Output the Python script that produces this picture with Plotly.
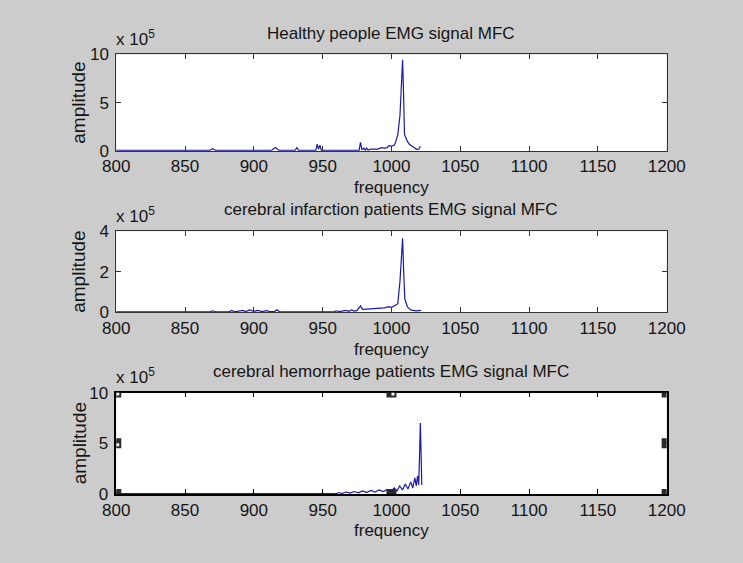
import plotly.graph_objects as go

# ---- data (amplitude in units of 1e5) ----
freq_healthy = [800, 820, 840, 860, 868, 870, 872, 890, 905, 913, 915, 916, 918, 925, 930, 931.3, 932.5,
                940, 945, 946, 947, 948, 949, 955, 961, 962.5, 964, 970, 976.5, 977.5, 978.5, 980, 981,
                982, 983, 985, 990, 993, 995, 997, 998, 1000, 1002, 1003, 1004.6, 1006.2, 1007.2,
                1008.1, 1008.8, 1009.5, 1011.6, 1013, 1015, 1017, 1018.5, 1020, 1021]
amp_healthy = [0.08, 0.08, 0.08, 0.08, 0.08, 0.25, 0.08, 0.08, 0.08, 0.08, 0.3, 0.35, 0.08, 0.08, 0.08, 0.35, 0.08,
               0.08, 0.08, 0.7, 0.2, 0.6, 0.08, 0.08, 0.08, 0.15, 0.08, 0.08, 0.1, 0.9, 0.15, 0.3, 0.1,
               0.3, 0.1, 0.2, 0.2, 0.35, 0.3, 0.35, 0.55, 0.5, 0.6, 0.9, 1.7, 3.7, 7.4,
               9.45, 5.9, 1.7, 1.0, 0.7, 0.5, 0.3, 0.15, 0.2, 0.5]

freq_infarction = [800, 830, 860, 868, 870, 872, 882, 884, 886, 892, 894, 897, 900, 903, 906, 909, 912,
                   915, 916.7, 918.5, 930, 950, 958, 960, 962, 967, 969, 971, 973, 975, 977.5, 979,
                   985, 990, 995, 998, 1000, 1003, 1004.6, 1006.2, 1007.2, 1008.1, 1008.8, 1009.7,
                   1011.6, 1014, 1018, 1021.5]
amp_infarction = [0.03, 0.03, 0.03, 0.03, 0.08, 0.03, 0.03, 0.1, 0.03, 0.1, 0.04, 0.12, 0.05, 0.1, 0.04, 0.09, 0.04,
                  0.04, 0.13, 0.04, 0.03, 0.03, 0.03, 0.08, 0.04, 0.1, 0.05, 0.12, 0.06, 0.1, 0.32, 0.15,
                  0.18, 0.2, 0.22, 0.28, 0.25, 0.35, 0.43, 1.54, 2.73, 3.65, 2.17, 0.67,
                  0.27, 0.12, 0.08, 0.1]

freq_hemorrhage = [800, 850, 900, 950, 960, 962, 964, 967, 970, 973, 976, 979, 982, 985, 988, 991, 994, 997,
                   1000, 1002, 1004, 1006, 1008, 1010, 1012, 1014, 1015.5, 1017, 1018, 1019, 1019.8,
                   1020.4, 1021, 1021.6, 1022]
amp_hemorrhage = [0.05, 0.05, 0.05, 0.05, 0.05, 0.15, 0.05, 0.2, 0.1, 0.25, 0.12, 0.3, 0.15, 0.35, 0.2, 0.4, 0.25, 0.45,
                  0.3, 0.6, 0.3, 0.8, 0.4, 1.0, 0.5, 1.2, 0.6, 1.6, 0.8, 1.8, 0.9,
                  3.7, 7.0, 3.7, 0.9]

titles = ["Healthy people EMG signal MFC",
          "cerebral infarction patients EMG signal MFC",
          "cerebral hemorrhage patients EMG signal MFC"]
x_ticks = [800, 850, 900, 950, 1000, 1050, 1100, 1150, 1200]
y_ranges = [[0, 10], [0, 4], [0, 10]]
y_ticks = [[0, 5, 10], [0, 2, 4], [0, 5, 10]]

BG = "#cccccc"
LINE = "#1a1aa8"
FONT = "Liberation Sans"
TXT = "#151515"
FS = 17

# paper domains (pixel-derived)
W, H = 743, 563
xdom = [107 / W, 683 / W]
ydoms = [[1 - 147 / H, 1 - 47 / H], [1 - 314 / H, 1 - 230 / H], [1 - 502 / H, 1 - 397 / H]]

fig = go.Figure()
series = [(freq_healthy, amp_healthy), (freq_infarction, amp_infarction), (freq_hemorrhage, amp_hemorrhage)]
annotations = []
for i, (fx, fy) in enumerate(series):
    n = "" if i == 0 else str(i + 1)
    fig.add_trace(go.Scatter(x=fx, y=fy, mode="lines", line=dict(color=LINE, width=1.2),
                             xaxis="x" + n, yaxis="y" + n, showlegend=False, hoverinfo="skip"))
    frame = "#000000" if i == 2 else "#333333"
    fig.update_layout(**{
        "xaxis" + n: dict(domain=xdom, range=[800, 1200], tickvals=x_ticks, ticks="inside", ticklen=5,
                          tickcolor=frame, mirror="ticks", showline=True, linecolor=frame,
                          linewidth=1.5 if i == 2 else 1, showgrid=False, zeroline=False,
                          anchor="y" + n, tickfont=dict(family=FONT, size=FS, color=TXT),
                          ticklabelstandoff=0, fixedrange=True),
        "yaxis" + n: dict(domain=ydoms[i], range=y_ranges[i], tickvals=y_ticks[i], ticks="inside", ticklen=5,
                          tickcolor=frame, mirror="ticks", showline=True, linecolor=frame,
                          linewidth=1.5 if i == 2 else 1, showgrid=False, zeroline=False,
                          anchor="x" + n, tickfont=dict(family=FONT, size=FS, color=TXT),
                          ticklabelstandoff=3, fixedrange=True),
    })
    top = ydoms[i][1]
    bot = ydoms[i][0]
    annotations.append(dict(text=titles[i], x=(xdom[0] + xdom[1]) / 2, y=top + 22 / H, xref="paper", yref="paper",
                            xanchor="center", yanchor="middle", showarrow=False,
                            font=dict(family=FONT, size=FS, color=TXT)))
    annotations.append(dict(text="x 10<sup>5</sup>", x=xdom[0] - 2 / W, y=top + 17 / H, xref="paper", yref="paper",
                            xanchor="left", yanchor="middle", showarrow=False,
                            font=dict(family=FONT, size=FS, color=TXT)))
    annotations.append(dict(text="frequency", x=(xdom[0] + xdom[1]) / 2, y=bot - 38 / H, xref="paper", yref="paper",
                            xanchor="center", yanchor="middle", showarrow=False,
                            font=dict(family=FONT, size=FS, color=TXT)))
    annotations.append(dict(text="amplitude", x=68 / W, y=(top + bot) / 2, xref="paper", yref="paper",
                            xanchor="center", yanchor="middle", textangle=-90, showarrow=False,
                            font=dict(family=FONT, size=19, color=TXT)))

# selection handles on the third axes
shapes = []
for hx in [800, 1000, 1200]:
    for hy in [0, 5, 10]:
        if hx == 1000 and hy == 5:
            continue
        shapes.append(dict(type="rect", xref="x3", yref="y3", xsizemode="pixel", ysizemode="pixel",
                           xanchor=hx, yanchor=hy, x0=-5, x1=5, y0=-5, y1=5,
                           fillcolor="#2a2a2a", line=dict(width=0)))
        shapes.append(dict(type="rect", xref="x3", yref="y3", xsizemode="pixel", ysizemode="pixel",
                           xanchor=hx, yanchor=hy, x0=0, x1=3, y0=-3, y1=0,
                           fillcolor="#ffffff", line=dict(width=0)))

fig.update_layout(width=W, height=H, margin=dict(l=0, r=0, t=0, b=0),
                  paper_bgcolor=BG, plot_bgcolor="#ffffff",
                  annotations=annotations, shapes=shapes)

fig.write_html("out.html", config={"displayModeBar": False})
